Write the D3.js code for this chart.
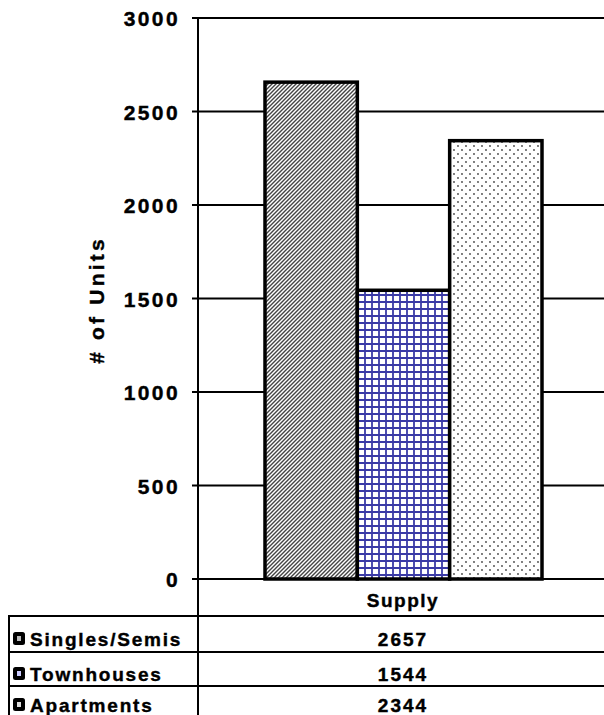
<!DOCTYPE html>
<html>
<head>
<meta charset="utf-8">
<script src="https://cdn.jsdelivr.net/npm/d3@7"></script>
<style>
  body { margin: 0; background: #fff; }
  text { stroke: #000; stroke-width: 0.4px; }
</style>
</head>
<body>
<script>
// data
const categories = ['Supply']
const series = ['Singles/Semis', 'Townhouses', 'Apartments']
const values = [2657, 1544, 2344]
const yTicks = [0, 500, 1000, 1500, 2000, 2500, 3000]

const W = 604, H = 715
const svg = d3.select('body').append('svg')
  .attr('width', W)
  .attr('height', H)
  .style('font-family', '"Liberation Sans", Arial, sans-serif')

const axisX = 198
const y = d3.scaleLinear().domain([0, 3000]).range([579, 18])
const x = d3.scaleBand().domain(series).range([265, 542]).padding(0)

// patterns
const defs = svg.append('defs')
const p1 = defs.append('pattern').attr('id', 'diag').attr('patternUnits', 'userSpaceOnUse')
  .attr('width', 4).attr('height', 4)
p1.append('rect').attr('width', 4).attr('height', 4).attr('fill', '#fff')
p1.append('path').attr('d', 'M-1,1 l2,-2 M0,4 l4,-4 M3,5 l2,-2')
  .attr('stroke', '#444').attr('stroke-width', 1.4)

const p2 = defs.append('pattern').attr('id', 'grid').attr('patternUnits', 'userSpaceOnUse')
  .attr('width', 7).attr('height', 7)
p2.append('rect').attr('width', 7).attr('height', 7).attr('fill', '#fff')
p2.append('path').attr('d', 'M1,0 v7 M0,1 h7')
  .attr('stroke', '#3a3aa6').attr('stroke-width', 1.8)

const p3 = defs.append('pattern').attr('id', 'dots').attr('patternUnits', 'userSpaceOnUse')
  .attr('width', 8).attr('height', 8)
p3.append('rect').attr('width', 8).attr('height', 8).attr('fill', '#fff')
p3.append('circle').attr('cx', 2).attr('cy', 2).attr('r', 0.9).attr('fill', '#444')
p3.append('circle').attr('cx', 6).attr('cy', 6).attr('r', 0.9).attr('fill', '#444')

const fills = ['url(#diag)', 'url(#grid)', 'url(#dots)']

// gridlines + ticks
svg.append('g').selectAll('line')
  .data(yTicks)
  .join('line')
  .attr('x1', axisX - 6)
  .attr('x2', W)
  .attr('y1', d => y(d))
  .attr('y2', d => y(d))
  .attr('stroke', '#000')
  .attr('stroke-width', 2)

svg.append('g').selectAll('text')
  .data(yTicks)
  .join('text')
  .attr('x', 180)
  .attr('y', d => y(d) + 8)
  .attr('text-anchor', 'end')
  .attr('font-size', 21)
  .attr('font-weight', 'bold')
  .attr('letter-spacing', 2.4)
  .text(d => d)

// axis line down through table
svg.append('line')
  .attr('x1', axisX).attr('x2', axisX)
  .attr('y1', y(3000)).attr('y2', H)
  .attr('stroke', '#000').attr('stroke-width', 2)

svg.append('text')
  .attr('transform', `translate(104, 300) rotate(-90)`)
  .attr('text-anchor', 'middle')
  .attr('font-size', 21)
  .attr('font-weight', 'bold')
  .attr('letter-spacing', 3.2)
  .text('# of Units')

// bars
svg.append('g').selectAll('rect')
  .data(values)
  .join('rect')
  .attr('x', (d, i) => x(series[i]))
  .attr('y', d => y(d))
  .attr('width', x.bandwidth())
  .attr('height', d => y(0) - y(d))
  .attr('fill', (d, i) => fills[i])
  .attr('stroke', '#000')
  .attr('stroke-width', 3.5)

// category label
svg.append('text')
  .attr('x', 403)
  .attr('y', 607)
  .attr('text-anchor', 'middle')
  .attr('font-size', 19)
  .attr('font-weight', 'bold')
  .attr('letter-spacing', 1.5)
  .text(categories[0])

// data table
const rowY = [616, 652, 686]
const baseY = [646, 681, 712]
svg.append('g').selectAll('line')
  .data(rowY)
  .join('line')
  .attr('x1', 8).attr('x2', W)
  .attr('y1', d => d).attr('y2', d => d)
  .attr('stroke', '#000').attr('stroke-width', 2)
svg.append('line')
  .attr('x1', 9).attr('x2', 9).attr('y1', 616).attr('y2', H)
  .attr('stroke', '#000').attr('stroke-width', 2)

const rows = svg.append('g').selectAll('g')
  .data(series)
  .join('g')
  .attr('transform', (d, i) => `translate(0, ${baseY[i]})`)

rows.append('rect')
  .attr('x', 13).attr('y', -14).attr('width', 12).attr('height', 13)
  .attr('rx', 2.5).attr('fill', '#000')
rows.append('rect')
  .attr('x', 17).attr('y', -10).attr('width', 4).attr('height', 5)
  .attr('fill', (d, i) => ['#bbb', '#ccf', '#ddd'][i])
rows.append('text')
  .attr('x', 30).attr('y', 0)
  .attr('font-size', 19)
  .attr('font-weight', 'bold')
  .attr('letter-spacing', 1.8)
  .text(d => d)
rows.append('text')
  .attr('x', 403).attr('y', 0)
  .attr('text-anchor', 'middle')
  .attr('font-size', 19)
  .attr('font-weight', 'bold')
  .attr('letter-spacing', 2)
  .text((d, i) => values[i])
</script>
</body>
</html>
